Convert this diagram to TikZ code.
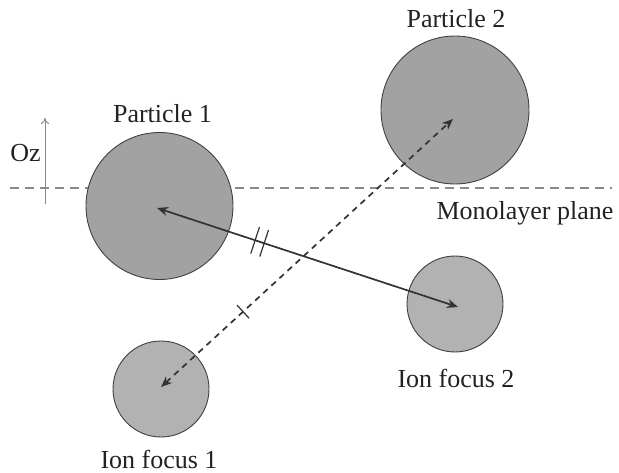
\documentclass[tikz,border=0pt]{standalone}
\usepackage{fontspec}
\setmainfont{Liberation Serif}
\usetikzlibrary{arrows.meta,calc}
\definecolor{partfill}{HTML}{A2A2A2}
\definecolor{ionfill}{HTML}{B2B2B2}
\definecolor{arrowc}{HTML}{333333}
\definecolor{planec}{HTML}{8A8A8A}
\definecolor{textc}{HTML}{222222}
\begin{document}
\begin{tikzpicture}[x=1pt,y=-1pt,
  partcirc/.style={circle,draw=black!75,line width=0.9pt,fill=partfill,inner sep=0pt},
  ioncirc/.style={circle,draw=black!75,line width=0.9pt,fill=ionfill,inner sep=0pt},
  lbl/.style={font=\fontsize{26}{30}\selectfont,text=textc,inner sep=0pt,anchor=base},
  conn/.style={draw=arrowc,line width=1.7pt,{Stealth[length=11pt,width=9pt]}-{Stealth[length=11pt,width=9pt]}},
  tickmark/.style={draw=arrowc,line width=1.2pt}]
\useasboundingbox (0,0) rectangle (619,473);
% monolayer plane
\draw[planec,line width=1.3pt,dash pattern=on 9pt off 6pt] (10,188) -- (612,188);
% Oz axis
\coordinate (ozb) at (45,204);
\coordinate (ozt) at (45,118);
\draw[planec,line width=1pt,-{To[length=6pt,width=8pt]}] (ozb) -- (ozt);
\node[lbl] (oz) at (25.5,162) {Oz};
% circles
\node[partcirc,minimum size=147pt] (p1) at (159.5,206) {};
\node[partcirc,minimum size=148pt] (p2) at (455,110) {};
\node[ioncirc,minimum size=96pt] (i2) at (455,304) {};
\node[ioncirc,minimum size=96pt] (i1) at (161,389) {};
% labels
\node[lbl] (lp1) at (162.5,123) {Particle 1};
\node[lbl] (lp2) at (456,28) {Particle 2};
\node[lbl] (lmp) at (525,220) {Monolayer plane};
\node[lbl] (li2) at (456,388) {Ion focus 2};
\node[lbl] (li1) at (159,468) {Ion focus 1};
% connectors
\coordinate (s1) at (157,208);
\coordinate (s2) at (458,307);
\coordinate (d1) at (161,387);
\coordinate (d2) at (453,119);
\draw[conn] (s1) -- (s2);
\draw[conn,dash pattern=on 6pt off 5pt] (d1) -- (d2);
% tick marks
\foreach \t in {0.326,0.356}{
  \coordinate (tc) at ($(s1)!\t!(s2)$);
  \draw[tickmark] ($(tc)!14pt!90:(s2)$) -- ($(tc)!14pt!-90:(s2)$);
}
\coordinate (tc1) at ($(d1)!0.281!(d2)$);
\draw[tickmark] ($(tc1)!9pt!90:(d2)$) -- ($(tc1)!9pt!-90:(d2)$);
\end{tikzpicture}
\end{document}
